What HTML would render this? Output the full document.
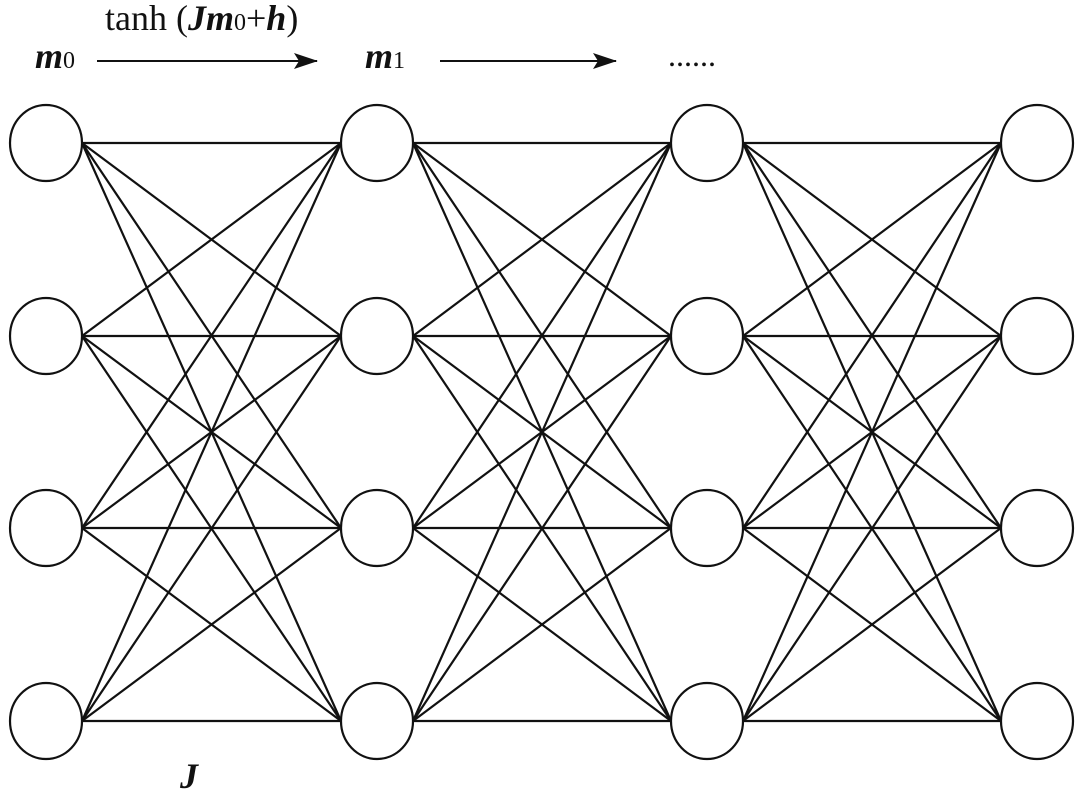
<!DOCTYPE html>
<html><head><style>
body{margin:0;background:#fff;}
svg{display:block;}
text{font-family:"Liberation Serif",serif;fill:#111;}
</style></head><body>
<svg width="1080" height="791" viewBox="0 0 1080 791">
<defs><marker id="ah" markerWidth="24" markerHeight="16" refX="23" refY="8" orient="auto" markerUnits="userSpaceOnUse"><path d="M0,0 L24,8 L0,16 L5,8 Z" fill="#111"/></marker></defs>
<text x="105" y="30" font-size="36">tanh (<tspan font-weight="bold" font-style="italic">Jm</tspan><tspan font-size="24">0</tspan>+<tspan font-weight="bold" font-style="italic">h</tspan>)</text>
<text x="35" y="68" font-size="36" font-weight="bold" font-style="italic">m<tspan font-size="24" font-weight="normal" font-style="normal">0</tspan></text>
<text x="365" y="68" font-size="36" font-weight="bold" font-style="italic">m<tspan font-size="24" font-weight="normal" font-style="normal">1</tspan></text>
<text x="668" y="66" font-size="32">......</text>
<text x="180" y="788" font-size="36" font-weight="bold" font-style="italic">J</text>
<line x1="97" y1="61" x2="317" y2="61" stroke="#111" stroke-width="2" marker-end="url(#ah)"/>
<line x1="440" y1="61" x2="616" y2="61" stroke="#111" stroke-width="2" marker-end="url(#ah)"/>
<g stroke="#111" stroke-width="2.2" fill="none" id="g"></g>
</svg>
<script>
var g=document.getElementById('g'),cx=[46,377,707,1037],cy=[143,336,528,721],s='';
for(var c=0;c<3;c++)for(var i=0;i<4;i++)for(var j=0;j<4;j++)
s+='<line x1="'+(cx[c]+36)+'" y1="'+cy[i]+'" x2="'+(cx[c+1]-36)+'" y2="'+cy[j]+'"/>';
for(var c=0;c<4;c++)for(var i=0;i<4;i++)
s+='<ellipse cx="'+cx[c]+'" cy="'+cy[i]+'" rx="36" ry="38" fill="#fff"/>';
g.innerHTML=s;
</script>
</body></html>
